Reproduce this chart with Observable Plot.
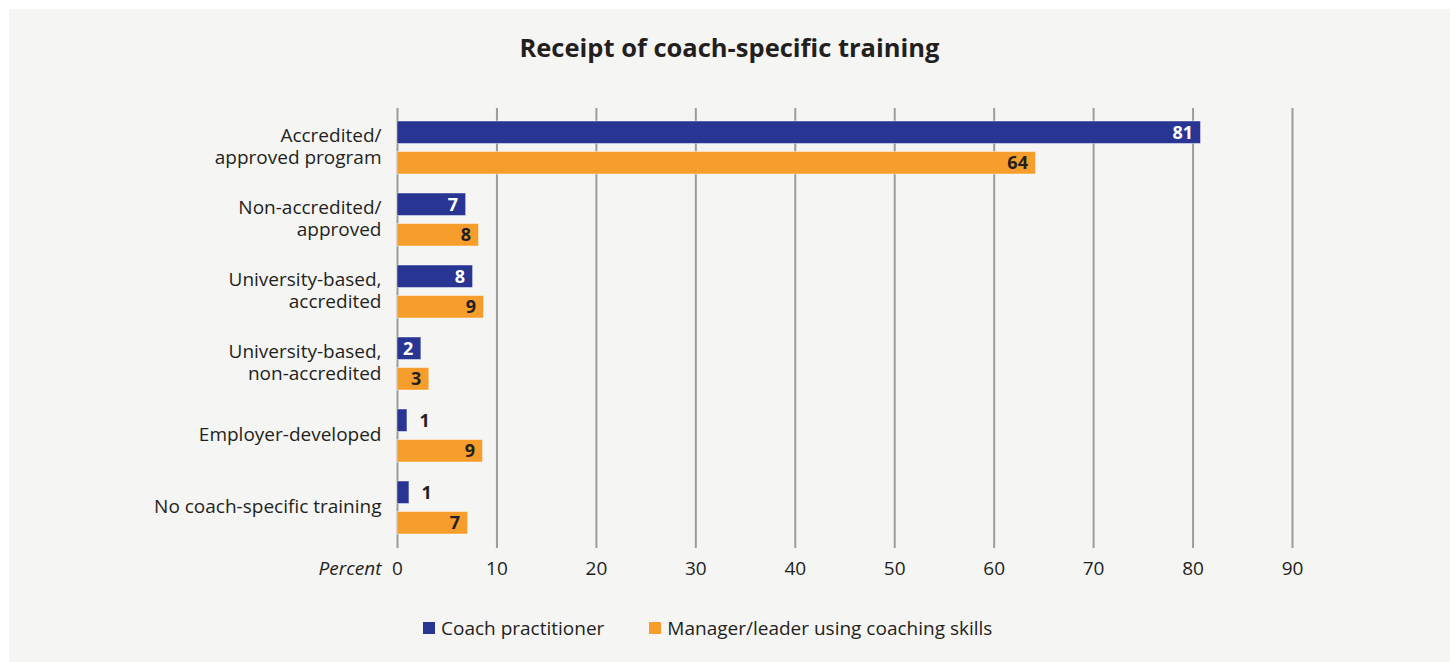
<!DOCTYPE html>
<html>
<head>
<meta charset="utf-8">
<script src="https://cdn.jsdelivr.net/npm/d3@7"></script>
<script src="https://cdn.jsdelivr.net/npm/@observablehq/plot@0.6"></script>
<style>
  html, body { margin: 0; padding: 0; background: #ffffff; }
  body { width: 1450px; height: 662px; position: relative; overflow: hidden; font-family: "Open Sans", "Noto Sans", sans-serif; color: #231f20; }
  #panel { position: absolute; left: 9px; top: 9px; width: 1441px; height: 653px; background: #f5f5f4; }
  #title { position: absolute; left: 9px; width: 1441px; top: 30px; text-align: center; font-weight: 700; font-size: 25.5px; line-height: 34px; }
  #chart { position: absolute; left: 0; top: 100px; }
  #legend { position: absolute; left: 423px; top: 615px; display: flex; align-items: center; font-size: 19px; line-height: 26px; }
  .item { display: flex; align-items: center; }
  .sw { width: 12px; height: 12px; margin-right: 6px; }
</style>
</head>
<body>
<div id="panel"></div>
<div id="title">Receipt of coach-specific training</div>
<div id="chart"></div>
<div id="legend"></div>
<script>
const categories = [
  "Accredited/\napproved program",
  "Non-accredited/\napproved",
  "University-based,\naccredited",
  "University-based,\nnon-accredited",
  "Employer-developed",
  "No coach-specific training"
];
const seriesNames = ["Coach practitioner", "Manager/leader using coaching skills"];
const seriesColors = ["#283593", "#f69d2b"];
const coachValues = [80.8, 6.9, 7.6, 2.4, 1.0, 1.2];
const managerValues = [64.2, 8.2, 8.7, 3.2, 8.6, 7.1];
const coachLabels = ["81", "7", "8", "2", "1", "1"];
const managerLabels = ["64", "8", "9", "3", "9", "7"];
const xTicks = [0, 10, 20, 30, 40, 50, 60, 70, 80, 90];

const coach = categories.map((c, i) => ({category: c, value: coachValues[i], label: coachLabels[i]}));
const manager = categories.map((c, i) => ({category: c, value: managerValues[i], label: managerLabels[i]}));
const coachInside = coach.filter(d => d.value >= 2);
const coachOutside = coach.filter(d => d.value < 2);

const font = "'Open Sans', 'Noto Sans', sans-serif";

const chart = Plot.plot({
  width: 1450,
  height: 488,
  marginLeft: 397,
  marginRight: 158,
  marginTop: 8,
  marginBottom: 40,
  style: {fontFamily: font, fontSize: "19px", color: "#231f20", background: "transparent", overflow: "visible"},
  x: {domain: [0, 90], ticks: xTicks},
  y: {domain: categories, paddingInner: 0.26, paddingOuter: 0.1437},
  marks: [
    Plot.ruleX(xTicks, {stroke: "#9c9c9c", strokeWidth: 2}),
    Plot.barX(coach, {y: "category", x: "value", fill: seriesColors[0], insetBottom: 30.5, stroke: "#ffffff", strokeOpacity: 0.45, strokeWidth: 1}),
    Plot.barX(manager, {y: "category", x: "value", fill: seriesColors[1], insetTop: 30.5, stroke: "#ffffff", strokeOpacity: 0.45, strokeWidth: 1}),
    Plot.text(coachInside, {y: "category", x: "value", text: "label", dy: -15.25, dx: -8, textAnchor: "end", fill: "#ffffff", fontWeight: 700, fontSize: 18}),
    Plot.text(coachOutside, {y: "category", x: "value", text: "label", dy: -15.25, dx: 12, textAnchor: "start", fill: "#231f20", fontWeight: 700, fontSize: 18}),
    Plot.text(manager, {y: "category", x: "value", text: "label", dy: 15.25, dx: -8, textAnchor: "end", fill: "#231f20", fontWeight: 700, fontSize: 18}),
    Plot.axisX({ticks: xTicks, tickSize: 0, tickPadding: 13, label: null, fontSize: 19, fill: "#231f20"}),
    Plot.axisY({tickSize: 0, tickPadding: 16, label: null, fontSize: 19, lineHeight: 1.16, dy: -2, fill: "#231f20"}),
    Plot.text(["Percent"], {x: () => 0, frameAnchor: "bottom", dy: 26, dx: -16, textAnchor: "end", fontStyle: "italic", fontSize: 19, fill: "#231f20"})
  ]
});
document.getElementById("chart").appendChild(chart);

const legend = document.getElementById("legend");
seriesNames.forEach((name, i) => {
  const item = document.createElement("div");
  item.className = "item";
  if (i > 0) item.style.marginLeft = "45px";
  const sw = document.createElement("span");
  sw.className = "sw";
  sw.style.background = seriesColors[i];
  const t = document.createElement("span");
  t.textContent = name;
  item.appendChild(sw);
  item.appendChild(t);
  legend.appendChild(item);
});
</script>
</body>
</html>
